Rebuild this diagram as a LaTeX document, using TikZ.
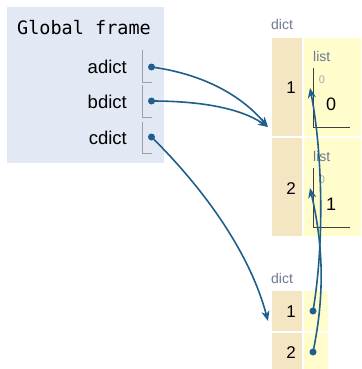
\documentclass[tikz,border=0pt]{standalone}
\usepackage{fontspec}
\setmainfont{Liberation Sans}
\newfontfamily\monofont{DejaVu Sans Mono}
\usetikzlibrary{arrows.meta}
\definecolor{framebg}{HTML}{E2E9F5}
\definecolor{keybg}{HTML}{F5E6C3}
\definecolor{valbg}{HTML}{FFFDCC}
\definecolor{ptr}{HTML}{1F5F8C}
\definecolor{typelbl}{HTML}{6E7890}
\definecolor{idxgray}{HTML}{A8A8A8}
\definecolor{slotline}{HTML}{A0A0A0}
\tikzset{
  fs/.style={font=\fontsize{#1}{#1}\selectfont},
  varname/.style={fs=18.5, anchor=base east, inner sep=0},
  keytxt/.style={fs=17, anchor=base, inner sep=0},
  typetxt/.style={fs=14, text=typelbl, anchor=base west, inner sep=0},
  idxtxt/.style={fs=11, text=idxgray, anchor=base, inner sep=0},
  valtxt/.style={fs=18, anchor=base, inner sep=0},
  dot/.style={circle, fill=ptr, inner sep=0, minimum size=7pt},
  slot/.style={draw=slotline, line width=0.9pt},
  listline/.style={draw=black!75, line width=0.9pt},
  conn/.style={draw=ptr, line width=1.6pt, -{Stealth[length=10pt,width=8pt,inset=3pt]}}
}
\begin{document}
\begin{tikzpicture}[x=1pt,y=-1pt]
\useasboundingbox (0,0) rectangle (361,369);
\fill[white] (0,0) rectangle (361,369);
% global frame
\fill[framebg] (7,7) rectangle (164,163);
\node[font=\monofont\fontsize{18.5}{20}\selectfont, anchor=base west, inner sep=0] (title) at (17,35) {Global frame};
\node[varname] (adict) at (127,73) {adict};
\node[varname] (bdict) at (127,108) {bdict};
\node[varname] (cdict) at (127,144) {cdict};
\draw[slot] (142,50) -- (142,82) -- (152,82);
\draw[slot] (142,85) -- (142,117) -- (152,117);
\draw[slot] (142,122) -- (142,153) -- (152,153);
\node[dot] (pa) at (151.5,67) {};
\node[dot] (pb) at (151.5,101) {};
\node[dot] (pc) at (151.5,137) {};
% dict 1
\node[typetxt] (d1lbl) at (271,30) {dict};
\fill[keybg] (272,38) rectangle (302,136);
\fill[valbg] (304,38) rectangle (361,136);
\fill[keybg] (272,138) rectangle (302,236);
\fill[valbg] (304,138) rectangle (361,236);
\node[keytxt] (d1k1) at (291,93) {1};
\node[keytxt] (d1k2) at (291,194) {2};
% list 1
\node[typetxt] (l1lbl) at (313,61) {list};
\draw[listline] (313,68) -- (313,127) -- (350,127);
\node[idxtxt] (l1i0) at (322,83) {0};
\node[valtxt] (l1v0) at (331,110) {0};
\coordinate (l1in) at (310,88);
% list 2
\node[typetxt] (l2lbl) at (313,161) {list};
\draw[listline] (313,168) -- (313,227) -- (350,227);
\node[idxtxt] (l2i0) at (322,183) {0};
\node[valtxt] (l2v0) at (331,210) {1};
\coordinate (l2in) at (310,188);
% dict 2
\node[typetxt] (d2lbl) at (271,283) {dict};
\fill[keybg] (272,291) rectangle (302,331);
\fill[valbg] (304,291) rectangle (328,331);
\fill[keybg] (272,333) rectangle (302,369);
\fill[valbg] (304,333) rectangle (328,369);
\node[keytxt] (d2k1) at (291,317) {1};
\node[keytxt] (d2k2) at (291,358) {2};
\node[dot] (q1) at (313,311) {};
\node[dot] (q2) at (313,352) {};
\coordinate (d1in) at (268,127);
\coordinate (d2in) at (268,321);
% connectors
\draw[conn] (pa.center) .. controls (210,75) and (245,100) .. (d1in);
\draw[conn] (pb.center) .. controls (200,101) and (240,108) .. (d1in);
\draw[conn] (pc.center) .. controls (180,165) and (245,235) .. (d2in);
\draw[conn] (q1.center) .. controls (325,240) and (322,150) .. (l1in);
\draw[conn] (q2.center) .. controls (326,290) and (322,240) .. (l2in);
\end{tikzpicture}
\end{document}
